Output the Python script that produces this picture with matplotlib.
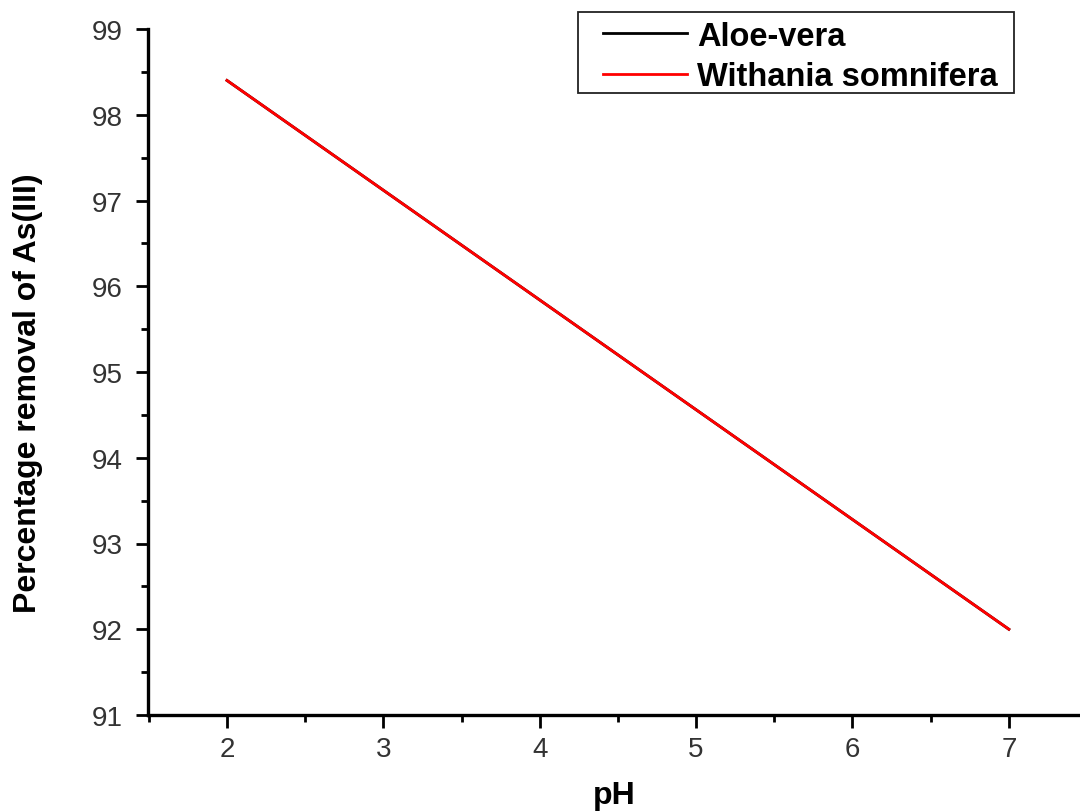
import matplotlib
matplotlib.use("Agg")
import matplotlib.pyplot as plt
from matplotlib.patches import Rectangle
from matplotlib.ticker import MultipleLocator

plt.rcParams['font.family'] = ['Liberation Sans', 'DejaVu Sans']

ph         = [2, 3, 4, 5, 6, 7]
aloe_vera  = [98.4, 97.12, 95.84, 94.56, 93.28, 92.0]
withania   = [98.4, 97.12, 95.84, 94.56, 93.28, 92.0]
labels     = ["Aloe-vera", "Withania somnifera"]

fig = plt.figure(figsize=(10.8, 8.12), dpi=100)
ax = fig.add_axes([148/1080, 96/812, 932/1080, 686/812])

ax.plot(ph, aloe_vera, color="black", lw=2, label=labels[0])
ax.plot(ph, withania, color="red", lw=2, label=labels[1])

ax.set_xlim(1.495, 7.455)
ax.set_ylim(91, 99)
ax.xaxis.set_major_locator(MultipleLocator(1))
ax.xaxis.set_minor_locator(MultipleLocator(0.5))
ax.yaxis.set_major_locator(MultipleLocator(1))
ax.yaxis.set_minor_locator(MultipleLocator(0.5))

for s in ["top", "right"]:
    ax.spines[s].set_visible(False)
for s in ["left", "bottom"]:
    ax.spines[s].set_linewidth(2.4)

ax.tick_params(which="major", direction="out", length=9, width=2, labelsize=20,
               labelcolor="#333333")
ax.tick_params(which="minor", direction="out", length=5, width=2)
ax.tick_params(axis="y", which="major", pad=9)
ax.tick_params(axis="x", which="major", pad=6)

ax.set_xlabel("pH", fontsize=23, fontweight="bold", labelpad=13)
ax.set_ylabel("Percentage removal of As(III)", fontsize=23, fontweight="bold")
ax.yaxis.set_label_coords(-0.113, 0.471)

# legend box drawn by hand so the left padding matches
fig.patches.append(Rectangle((578/1080, 1 - 94/812), 436/1080, 81/812,
                             transform=fig.transFigure, fill=False,
                             edgecolor="#222222", lw=1.3))
leg = fig.legend(loc="upper left", bbox_to_anchor=(596/1080, 1 - 15/812),
                 prop={"weight": "bold", "size": 23.5}, frameon=False,
                 borderaxespad=0, handlelength=2.6, handletextpad=0.3,
                 borderpad=0.2, labelspacing=0.3)

fig.savefig("out.png", dpi=100)
